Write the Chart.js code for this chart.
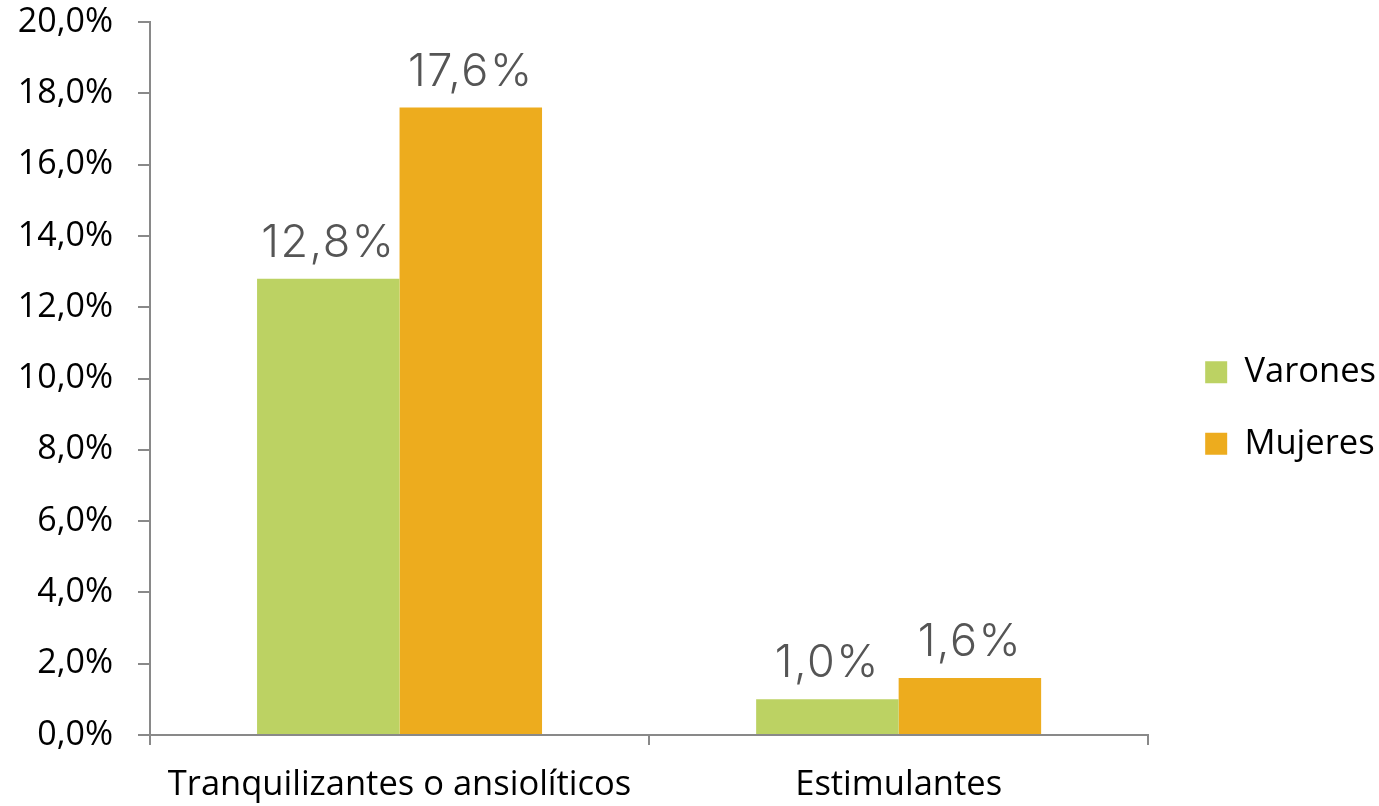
<!DOCTYPE html>
<html>
<head>
<meta charset="utf-8">
<script src="https://cdn.jsdelivr.net/npm/chart.js@4.4.1/dist/chart.umd.min.js"></script>
<style>
  html, body { margin: 0; padding: 0; background: #fff; }
  #wrap { width: 1379px; height: 806px; }
</style>
</head>
<body>
<div id="wrap"><canvas id="chart" width="1379" height="806"></canvas></div>
<script>
// data
const categories = ['Tranquilizantes o ansiolíticos', 'Estimulantes'];
const seriesNames = ['Varones', 'Mujeres'];
const varones = [12.8, 1.0];
const mujeres = [17.6, 1.6];
const seriesColors = ['#BCD263', '#EDAC1E'];

const axisGrey = '#898989';
const fmt = v => v.toFixed(1).replace('.', ',') + '%';

// value labels above each bar
const barLabels = {
    id: 'barLabels',
    afterDatasetsDraw(chart) {
        const ctx = chart.ctx;
        ctx.save();
        ctx.font = '300 45px Inter, Lato, sans-serif';
        ctx.letterSpacing = '1.5px';
        ctx.fillStyle = '#555555';
        ctx.textAlign = 'center';
        ctx.textBaseline = 'bottom';
        chart.data.datasets.forEach((ds, i) => {
            chart.getDatasetMeta(i).data.forEach((bar, j) => {
                ctx.fillText(fmt(ds.data[j]), bar.x, bar.y - 13);
            });
        });
        ctx.restore();
    }
};

// push the legend a bit further away from the plot
const legendGap = {
    id: 'legendGap',
    afterLayout(chart) {
        const lg = chart.legend;
        lg.left += 20;
        lg.right += 20;
        lg.top += 5;
        lg.bottom += 5;
    }
};

new Chart(document.getElementById('chart').getContext('2d'), {
    type: 'bar',
    data: {
        labels: categories,
        datasets: [{
            label: seriesNames[0],
            data: varones,
            backgroundColor: seriesColors[0]
        }, {
            label: seriesNames[1],
            data: mujeres,
            backgroundColor: seriesColors[1]
        }]
    },
    options: {
        responsive: false,
        animation: false,
        devicePixelRatio: 1,
        layout: { padding: { top: 0, left: 0, right: 13, bottom: 0 } },
        datasets: {
            bar: { categoryPercentage: 0.571, barPercentage: 1.0 }
        },
        scales: {
            x: {
                grid: {
                    offset: true,
                    drawOnChartArea: false,
                    color: axisGrey,
                    lineWidth: 2,
                    tickLength: 10
                },
                border: { color: axisGrey, width: 2 },
                ticks: {
                    color: '#000',
                    padding: 19,
                    font: { family: 'Open Sans', size: 34.5 }
                },
                afterFit(scale) {
                    scale.height = 71;
                }
            },
            y: {
                min: 0,
                max: 20,
                grid: {
                    drawOnChartArea: false,
                    color: axisGrey,
                    lineWidth: 2,
                    tickLength: 12
                },
                border: { color: axisGrey, width: 2 },
                ticks: {
                    stepSize: 2,
                    color: '#000',
                    padding: 25,
                    font: { family: 'Open Sans', size: 34 },
                    callback: v => fmt(v)
                },
                afterFit(scale) {
                    scale.width = 150;
                    scale.paddingTop = 22;
                    scale.paddingBottom = 22;
                }
            }
        },
        plugins: {
            legend: {
                position: 'right',
                labels: {
                    color: '#000',
                    boxWidth: 22,
                    boxHeight: 22,
                    padding: 37,
                    font: { family: 'Open Sans', size: 34.5 }
                }
            },
            tooltip: { enabled: false }
        }
    },
    plugins: [barLabels, legendGap]
});
</script>
</body>
</html>
